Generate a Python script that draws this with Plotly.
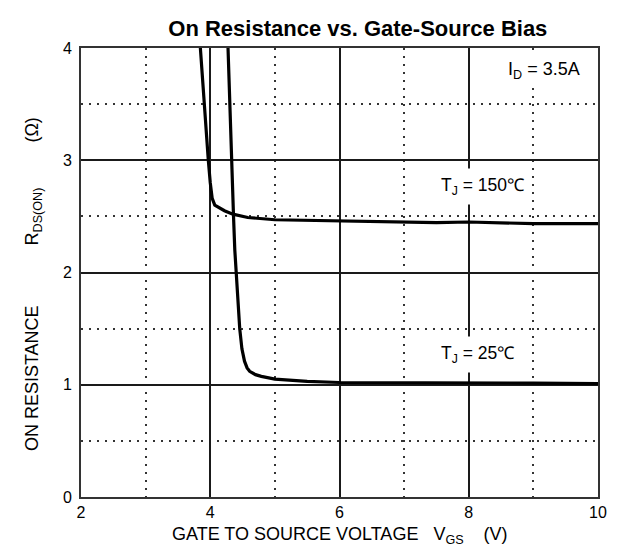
import plotly.graph_objects as go

# Data
vgs_150 = [3.847, 3.905, 3.97, 4.0, 4.03, 4.07, 4.15, 4.22, 4.35, 4.58, 5.0, 5.5, 6.0, 7.0, 7.5, 8.0, 8.5, 9.0, 10.0]
rds_150 = [4.0, 3.5, 3.0, 2.8, 2.66, 2.6, 2.57, 2.55, 2.52, 2.49, 2.47, 2.465, 2.455, 2.45, 2.445, 2.45, 2.44, 2.435, 2.435]

vgs_25 = [4.275, 4.30, 4.33, 4.36, 4.38, 4.40, 4.43, 4.456, 4.49, 4.53, 4.57, 4.61, 4.70, 4.79, 5.0, 5.5, 6.0, 7.0, 8.0, 9.0, 10.0]
rds_25 = [4.0, 3.5, 3.0, 2.5, 2.2, 2.0, 1.75, 1.5, 1.32, 1.21, 1.15, 1.12, 1.09, 1.075, 1.05, 1.03, 1.02, 1.02, 1.02, 1.015, 1.01]

x_ticks = [2, 4, 6, 8, 10]
x_minor = [3, 5, 7, 9]
y_ticks = [0, 1, 2, 3, 4]
y_minor = [0.5, 1.5, 2.5, 3.5]

FONT = "Liberation Sans, Arial, sans-serif"
NB = "\u00a0"

fig = go.Figure()
fig.add_trace(go.Scatter(x=vgs_150, y=rds_150, mode="lines",
                         line=dict(color="black", width=3.2), showlegend=False))
fig.add_trace(go.Scatter(x=vgs_25, y=rds_25, mode="lines",
                         line=dict(color="black", width=3.2), showlegend=False))

grid_major = "#1a1a1a"
grid_minor = "#333333"
dot = "1.5px,6.5px"

fig.update_xaxes(
    range=[2, 10], tickvals=x_ticks, ticktext=[str(v) for v in x_ticks],
    showgrid=True, gridcolor=grid_major, gridwidth=1.5,
    minor=dict(tickvals=x_minor, showgrid=True, gridcolor=grid_minor, gridwidth=1.5, griddash=dot, ticks=""),
    showline=True, mirror=True, linecolor="#333333", linewidth=2,
    ticks="",
    zeroline=False,
    tickfont=dict(family=FONT, size=16, color="black"),
)
fig.update_yaxes(
    range=[0, 4], tickvals=y_ticks, ticktext=[str(v) for v in y_ticks],
    showgrid=True, gridcolor=grid_major, gridwidth=1.5,
    minor=dict(tickvals=y_minor, showgrid=True, gridcolor=grid_minor, gridwidth=1.5, griddash=dot, ticks=""),
    showline=True, mirror=True, linecolor="#333333", linewidth=2,
    ticks="outside", ticklen=4, tickcolor="rgba(0,0,0,0)",
    zeroline=False,
    tickfont=dict(family=FONT, size=16, color="black"),
)

# axis titles as annotations for precise placement
fig.add_annotation(xref="paper", yref="paper", x=0.501, y=-0.085,
                   text="GATE TO SOURCE VOLTAGE" + NB * 3 + "V<sub>GS</sub>" + NB * 4 + "(V)",
                   showarrow=False, xanchor="center", yanchor="middle",
                   font=dict(family=FONT, size=18, color="black"))
fig.add_annotation(xref="paper", yref="paper", x=-0.093, y=0.474,
                   text="ON RESISTANCE" + NB * 12 + "R<sub>DS(ON)</sub>" + NB * 9 + "(Ω)",
                   showarrow=False, xanchor="center", yanchor="middle", textangle=-90,
                   font=dict(family=FONT, size=18, color="black"))

ann_font = dict(family=FONT, size=17.5, color="black")
fig.add_annotation(x=9.17, y=3.8, text="I<sub>D</sub> = 3.5A", showarrow=False,
                   font=dict(family=FONT, size=18, color="black"), bgcolor="white", borderpad=5)
fig.add_annotation(x=8.21, y=2.77, text="T<sub>J</sub> = 150℃", showarrow=False,
                   font=ann_font, bgcolor="white", borderpad=6)
fig.add_annotation(x=8.14, y=1.27, text="T<sub>J</sub> = 25℃", showarrow=False,
                   font=ann_font, bgcolor="white", borderpad=6)

fig.update_layout(
    width=617, height=547,
    margin=dict(l=73, r=27, t=40, b=58),
    paper_bgcolor="white", plot_bgcolor="white",
    title=dict(text="<b>On Resistance vs. Gate-Source Bias</b>",
               x=0.567, xanchor="center", y=1 - 20 / 547, yanchor="middle",
               font=dict(family=FONT, size=22, color="black")),
)

fig.write_html("out.html")
